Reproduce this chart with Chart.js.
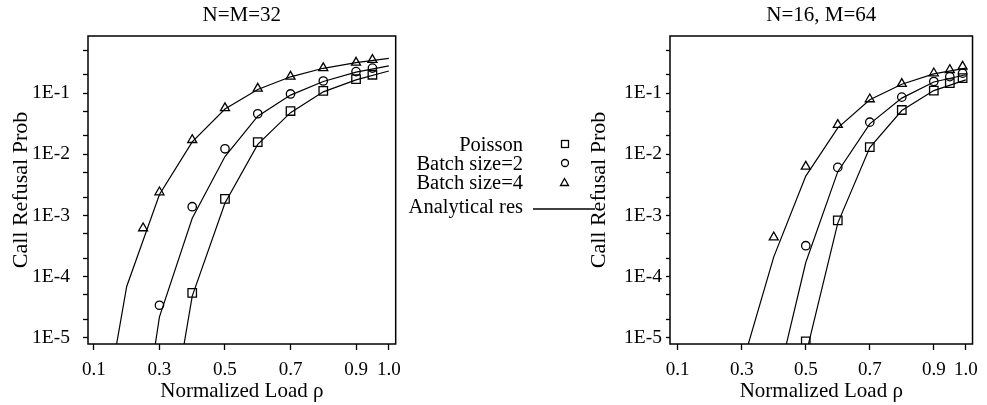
<!DOCTYPE html>
<html>
<head>
<meta charset="utf-8">
<script src="https://cdn.jsdelivr.net/npm/chart.js@4"></script>
<style>
  body { margin:0; background:#fff; width:987px; height:405px; position:relative; overflow:hidden; font-family:"Liberation Serif","Times New Roman",serif; color:#000; }
  canvas { position:absolute; top:0; }
  #left { left:0; }
  #right { left:578px; }
  .lg { position:absolute; left:323px; width:200px; text-align:right; font-size:20.5px; line-height:20px; white-space:nowrap; }
  .mk { position:absolute; }
</style>
</head>
<body>
<canvas id="left" width="410" height="405"></canvas>
<canvas id="right" width="409" height="405"></canvas>

<div class="lg" style="top:134px">Poisson</div>
<div class="lg" style="top:153px">Batch size=2</div>
<div class="lg" style="top:172px">Batch size=4</div>
<div class="lg" style="top:196px">Analytical res</div>
<svg class="mk" style="left:560px;top:139px" width="10" height="10"><rect x="1.5" y="1.5" width="7" height="7" fill="none" stroke="#000" stroke-width="1.3"/></svg>
<svg class="mk" style="left:560px;top:158px" width="10" height="10"><circle cx="5" cy="5" r="3.5" fill="none" stroke="#000" stroke-width="1.3"/></svg>
<svg class="mk" style="left:559px;top:177px" width="11" height="10"><polygon points="5.5,1.5 9.5,8.5 1.5,8.5" fill="none" stroke="#000" stroke-width="1.3"/></svg>
<svg class="mk" style="left:533px;top:208px" width="62" height="2"><line x1="0" y1="1" x2="62" y2="1" stroke="#000" stroke-width="1.3"/></svg>

<script>
// axis ticks
const xTickValues = [0.1, 0.3, 0.5, 0.7, 0.9, 1.0];
const xTickLabels = ['0.1', '0.3', '0.5', '0.7', '0.9', '1.0'];
const yTickValues = [1e-5, 1e-4, 1e-3, 1e-2, 1e-1];
const yTickLabels = ['1E-5', '1E-4', '1E-3', '1E-2', '1E-1'];
const yMinorTicks = [2e-5, 5e-5, 2e-4, 5e-4, 2e-3, 5e-3, 2e-2, 5e-2, 2e-1, 5e-1];

// analytical curves, sampled at rho = 0.1 .. 1.0
const lineRho = [0.1, 0.2, 0.3, 0.4, 0.5, 0.6, 0.7, 0.8, 0.9, 1.0];

// N=M=32
const poissonLine32 = [null, null, 3.3e-8, 4.8e-5, 1.6e-3, 1.45e-2, 4.8e-2, 0.105, 0.165, 0.23];
const batch2Line32  = [null, 6.5e-9, 2.2e-5, 9e-4, 9.2e-3, 4.2e-2, 9.3e-2, 0.155, 0.22, 0.28];
const batch4Line32  = [6e-8, 6.9e-5, 2.2e-3, 1.6e-2, 5.5e-2, 0.115, 0.185, 0.255, 0.315, 0.37];
const poissonRho32 = [0.4, 0.5, 0.6, 0.7, 0.8, 0.9, 0.95];
const poisson32    = [5.4e-5, 1.87e-3, 1.58e-2, 5.1e-2, 0.109, 0.17, 0.2];
const batch2Rho32  = [0.3, 0.4, 0.5, 0.6, 0.7, 0.8, 0.9, 0.95];
const batch2_32    = [3.4e-5, 1.39e-3, 1.23e-2, 4.6e-2, 9.7e-2, 0.158, 0.225, 0.257];
const batch4Rho32  = [0.25, 0.3, 0.4, 0.5, 0.6, 0.7, 0.8, 0.9, 0.95];
const batch4_32    = [6.2e-4, 2.4e-3, 1.72e-2, 5.7e-2, 0.119, 0.187, 0.257, 0.316, 0.35];

// N=16, M=64
const poissonLine64 = [null, null, null, null, 5.2e-6, 7.5e-4, 1.29e-2, 5.2e-2, 0.11, 0.165];
const batch2Line64  = [null, null, null, 1.07e-6, 1.7e-4, 5.2e-3, 3.15e-2, 8.3e-2, 0.152, 0.2];
const batch4Line64  = [null, null, 3.4e-6, 2.1e-4, 4.4e-3, 2.7e-2, 7.8e-2, 0.14, 0.206, 0.257];
const poissonRho64 = [0.5, 0.6, 0.7, 0.8, 0.9, 0.95, 0.99];
const poisson64    = [8.7e-6, 8.3e-4, 1.31e-2, 5.3e-2, 0.11, 0.146, 0.176];
const batch2Rho64  = [0.5, 0.6, 0.7, 0.8, 0.9, 0.95, 0.99];
const batch2_64    = [3.2e-4, 6.1e-3, 3.35e-2, 8.6e-2, 0.155, 0.186, 0.212];
const batch4Rho64  = [0.4, 0.5, 0.6, 0.7, 0.8, 0.9, 0.95, 0.99];
const batch4_64    = [4.4e-4, 6.3e-3, 3.03e-2, 7.97e-2, 0.142, 0.212, 0.24, 0.272];

Chart.defaults.font.family = '"Liberation Serif", "Times New Roman", serif';
Chart.defaults.color = '#000';

function pts(xs, ys) {
  return xs.map((x, i) => ys[i] == null ? null : { x, y: ys[i] }).filter(p => p);
}

const frame = {
  id: 'frame',
  afterDatasetsDraw(c) {
    const a = c.chartArea, ctx = c.ctx;
    ctx.save();
    ctx.strokeStyle = '#000';
    ctx.lineWidth = 1.5;
    ctx.strokeRect(a.left, a.top, a.right - a.left, a.bottom - a.top);
    ctx.restore();
  }
};

function lineSet(ys) {
  return { data: pts(lineRho, ys), showLine: true, pointRadius: 0, borderColor: '#000', borderWidth: 1.2, order: 2 };
}
function markSet(xs, ys, style, r) {
  return { data: pts(xs, ys), showLine: false, pointStyle: style, pointRadius: r, pointBorderWidth: 1.3,
           borderColor: '#000', backgroundColor: 'rgba(255,255,255,0)', order: 1 };
}

function makeChart(id, title, o, datasets) {
  return new Chart(document.getElementById(id), {
    type: 'scatter',
    data: { datasets },
    options: {
      responsive: false,
      animation: false,
      layout: { padding: { left: 0, right: o.padRight, top: 0, bottom: 0 } },
      plugins: {
        legend: { display: false },
        tooltip: { enabled: false },
        title: { display: true, fullSize: false, text: title, font: { size: 21, weight: 'normal' },
                 padding: { top: 2.5, bottom: 8.3 } }
      },
      scales: {
        x: {
          type: 'linear', min: o.xMin, max: o.xMax,
          afterBuildTicks: s => { s.ticks = xTickValues.map(v => ({ value: v })); },
          afterFit: s => { s.height = 61; },
          ticks: { font: { size: 19 }, padding: 9, maxRotation: 0, autoSkip: false,
                   callback: (v) => xTickLabels[xTickValues.indexOf(v)] },
          grid: { drawOnChartArea: false, drawTicks: true, tickLength: 6, tickColor: '#000', tickWidth: 1.3 },
          border: { display: false },
          title: { display: true, text: 'Normalized Load ρ', font: { size: 21 }, padding: { top: 0, bottom: 1 } }
        },
        y: {
          type: 'logarithmic', min: 7.9e-6, max: 0.86,
          afterBuildTicks: s => {
            s.ticks = yTickValues.concat(yMinorTicks).sort((a, b) => a - b).map(v => ({ value: v }));
          },
          afterFit: s => { s.width = o.yWidth; },
          ticks: { font: { size: 19.5 }, padding: o.yPad, autoSkip: false,
                   callback: (v) => { const i = yTickValues.indexOf(v); return i >= 0 ? yTickLabels[i] : ''; } },
          grid: { drawOnChartArea: false, drawTicks: true, tickLength: o.yTick, tickColor: '#000', tickWidth: 1.3 },
          border: { display: false },
          title: { display: true, text: 'Call Refusal Prob', font: { size: 22 }, padding: { top: o.yTitlePad, bottom: 0 } }
        }
      }
    },
    plugins: [frame]
  });
}

makeChart('left', 'N=M=32',
  { xMin: 0.0819, xMax: 1.021, padRight: 12, yWidth: 88, yPad: 13, yTick: 5, yTitlePad: 8 },
  [
    lineSet(poissonLine32), lineSet(batch2Line32), lineSet(batch4Line32),
    markSet(poissonRho32, poisson32, 'rect', 6),
    markSet(batch2Rho32, batch2_32, 'circle', 4.2),
    markSet(batch4Rho32, batch4_32, 'triangle', 5.2)
  ]);

makeChart('right', 'N=16, M=64',
  { xMin: 0.0758, xMax: 1.021, padRight: 5, yWidth: 92, yPad: 4, yTick: 4, yTitlePad: 8 },
  [
    lineSet(poissonLine64), lineSet(batch2Line64), lineSet(batch4Line64),
    markSet(poissonRho64, poisson64, 'rect', 6),
    markSet(batch2Rho64, batch2_64, 'circle', 4.2),
    markSet(batch4Rho64, batch4_64, 'triangle', 5.2)
  ]);
</script>
</body>
</html>
